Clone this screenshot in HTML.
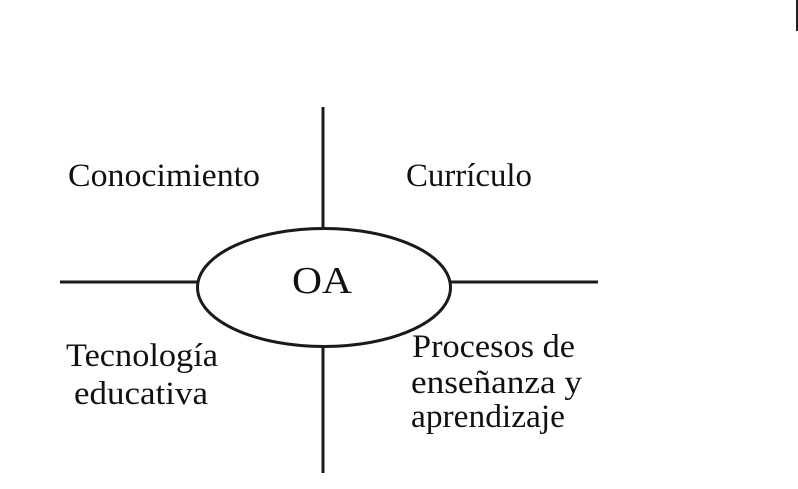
<!DOCTYPE html>
<html><head><meta charset="utf-8"><style>html,body{margin:0;padding:0;background:#fff;}svg{display:block}</style></head>
<body>
<svg width="798" height="489" viewBox="0 0 798 489" xmlns="http://www.w3.org/2000/svg">
<rect x="0" y="0" width="798" height="489" fill="#fff"/>
<rect x="796" y="0" width="2" height="31" fill="#222"/>
<g stroke="#1a1a1a" stroke-width="3" fill="none">
<line x1="323" y1="107" x2="323" y2="229"/>
<line x1="323" y1="346" x2="323" y2="473"/>
<line x1="60" y1="282" x2="198" y2="282"/>
<line x1="450" y1="282" x2="598" y2="282"/>
<ellipse cx="324" cy="287.5" rx="126.5" ry="59" fill="#fff"/>
</g>
<g font-family="'Liberation Serif', serif" fill="#111" font-size="33">
<text x="292" y="293" font-size="38" textLength="60" lengthAdjust="spacingAndGlyphs">OA</text>
<text x="68" y="186" textLength="192" lengthAdjust="spacingAndGlyphs">Conocimiento</text>
<text x="406" y="186" textLength="126" lengthAdjust="spacingAndGlyphs">Currículo</text>
<text x="66" y="366" textLength="152" lengthAdjust="spacingAndGlyphs">Tecnología</text>
<text x="74" y="404" textLength="134" lengthAdjust="spacingAndGlyphs">educativa</text>
<text x="412" y="357" textLength="163" lengthAdjust="spacingAndGlyphs">Procesos de</text>
<text x="411" y="393" textLength="171" lengthAdjust="spacingAndGlyphs">enseñanza y</text>
<text x="411" y="427" textLength="154" lengthAdjust="spacingAndGlyphs">aprendizaje</text>
</g>
</svg>
</body></html>
